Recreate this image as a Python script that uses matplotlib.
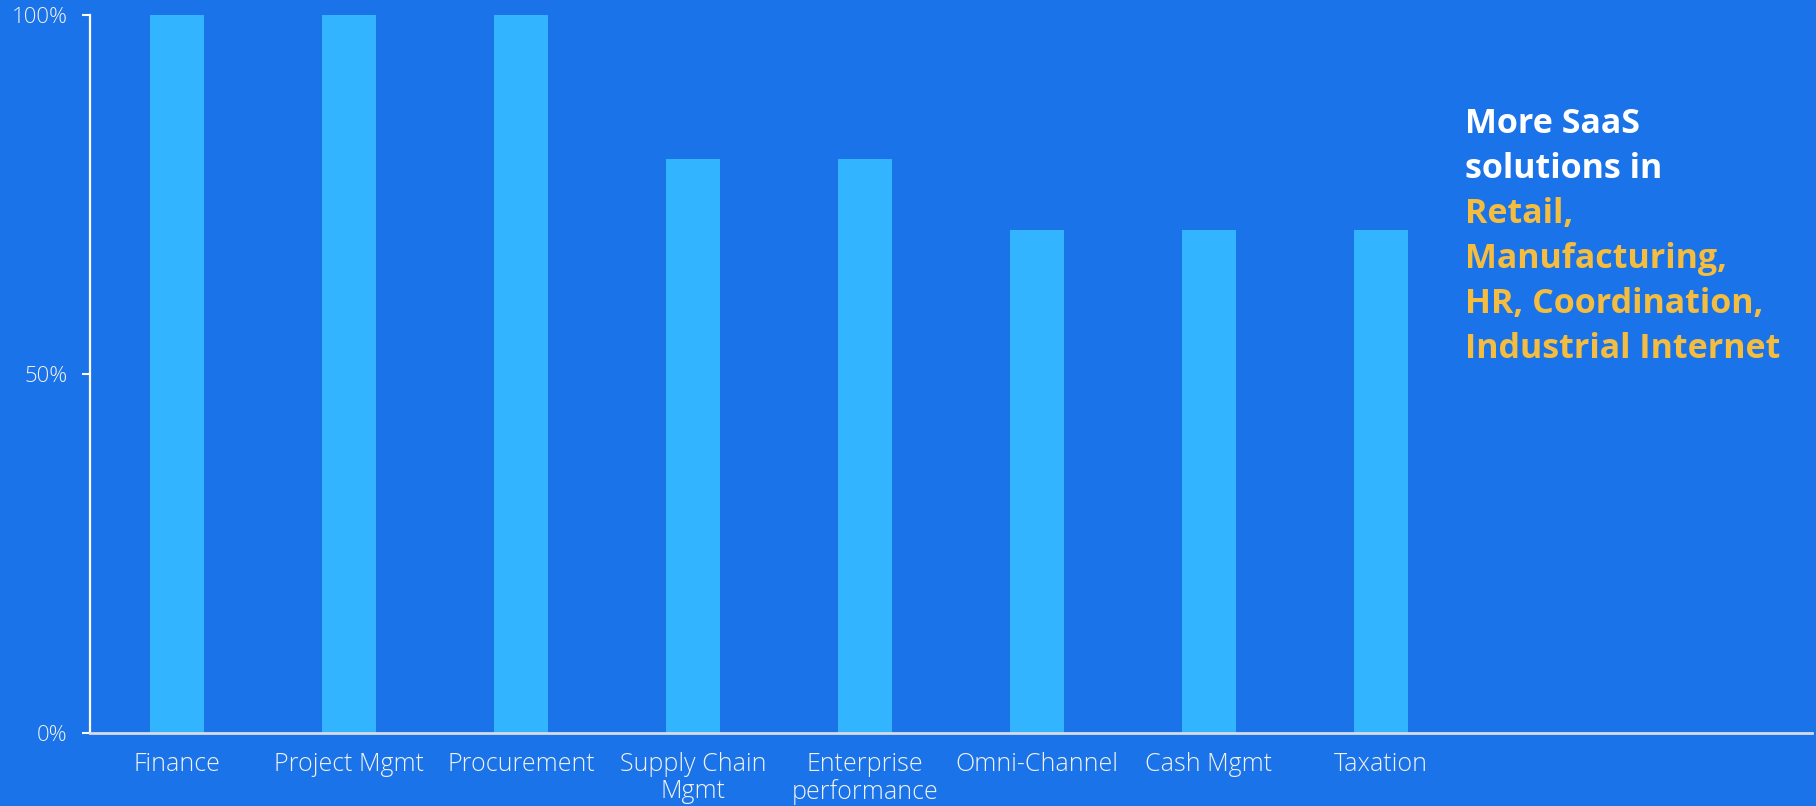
import matplotlib
matplotlib.use("Agg")
import matplotlib.pyplot as plt
from matplotlib.ticker import FixedLocator, PercentFormatter

categories = ["Finance", "Project Mgmt", "Procurement", "Supply Chain\nMgmt",
              "Enterprise\nperformance", "Omni-Channel", "Cash Mgmt", "Taxation"]
values = [1.0, 1.0, 1.0, 0.8, 0.8, 0.7, 0.7, 0.7]
y_ticks = [0, 0.5, 1.0]

bg = "#1A73E8"
bar_color = "#33B4FF"
text_color = "#F2F2F2"
yellow = "#F4BD40"

plt.rcParams['font.family'] = ['Open Sans', 'DejaVu Sans']

fig = plt.figure(figsize=(18.16, 8.06), dpi=100, facecolor=bg)
ax = fig.add_axes([90/1816, 1-733/806, (1812-90)/1816, (733-15)/806])
ax.set_facecolor(bg)

x = list(range(len(categories)))
ax.bar(x, values, width=0.31, color=bar_color, zorder=2)

ax.set_xlim(-0.506, 9.506)
ax.set_ylim(0, 1.0)
ax.yaxis.set_major_locator(FixedLocator(y_ticks))
ax.yaxis.set_major_formatter(PercentFormatter(1.0, decimals=0))
ax.set_xticks(x)
ax.set_xticklabels(categories, fontsize=18, color=text_color, linespacing=1.1,
                   fontweight="light")
for lbl in ax.get_yticklabels():
    lbl.set_fontweight("light")

for s in ["top", "right"]:
    ax.spines[s].set_visible(False)
ax.spines["left"].set_color("white")
ax.spines["left"].set_linewidth(1.6)
ax.spines["bottom"].set_color("#D6DCE5")
ax.spines["bottom"].set_linewidth(2)

ax.tick_params(axis="x", length=0, pad=14)
ax.tick_params(axis="y", length=6, width=1.5, color="white", pad=10,
               labelsize=16, labelcolor=text_color)

lines = [("More SaaS", "white"), ("solutions in", "white"), ("Retail,", yellow),
         ("Manufacturing,", yellow), ("HR, Coordination,", yellow),
         ("Industrial Internet", yellow)]
x0 = 1465 / 1816
for i, (t, c) in enumerate(lines):
    yb = 1 - (133 + 45 * i) / 806
    fig.text(x0, yb, t, color=c, fontsize=24.5, fontweight="bold", ha="left", va="baseline")

fig.savefig("out.png", dpi=100, facecolor=bg)
